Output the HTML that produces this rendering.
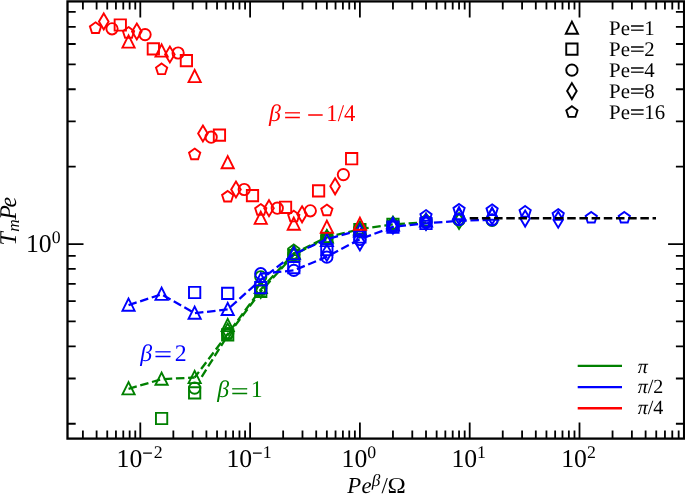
<!DOCTYPE html>
<html><head><meta charset="utf-8"><title>Figure</title>
<style>html,body{margin:0;padding:0;background:#fff}svg{display:block}</style></head>
<body>
<svg width="685" height="494" viewBox="0 0 685 494">
<rect width="685" height="494" fill="#fff"/>
<g>
<polyline points="128.55,388.80 161.60,379.20 194.65,377.50" fill="none" stroke="#008000" stroke-width="2.3" stroke-dasharray="8.51 3.68" stroke-linejoin="round"/>
<polyline points="194.65,377.50 227.70,333.90 260.75,289.50 293.80,253.40 326.85,237.30 359.90,229.20 392.95,224.40 426.00,222.40" fill="none" stroke="#008000" stroke-width="2.3" stroke-dasharray="8.51 3.68" stroke-dashoffset="1.5" stroke-linejoin="round"/>
<polyline points="201.69,376.80 227.70,335.40 260.75,291.60 293.80,254.80 326.85,238.00" fill="none" stroke="#008000" stroke-width="2.3" stroke-dasharray="8.51 3.68" stroke-linejoin="round"/>
<polygon points="128.55,382.20 122.45,394.40 134.65,394.40" fill="none" stroke="#008000" stroke-width="1.9" stroke-linejoin="miter"/>
<polygon points="161.60,372.60 155.50,384.80 167.70,384.80" fill="none" stroke="#008000" stroke-width="1.9" stroke-linejoin="miter"/>
<polygon points="155.95,412.85 167.25,412.85 167.25,424.15 155.95,424.15" fill="none" stroke="#008000" stroke-width="1.9" stroke-linejoin="miter"/>
<polygon points="194.65,370.90 188.55,383.10 200.75,383.10" fill="none" stroke="#008000" stroke-width="1.9" stroke-linejoin="miter"/>
<circle cx="194.65" cy="388.10" r="5.65" fill="none" stroke="#008000" stroke-width="1.9"/>
<polygon points="189.00,387.25 200.30,387.25 200.30,398.55 189.00,398.55" fill="none" stroke="#008000" stroke-width="1.9" stroke-linejoin="miter"/>
<polygon points="227.70,318.90 221.60,331.10 233.80,331.10" fill="none" stroke="#008000" stroke-width="1.9" stroke-linejoin="miter"/>
<polygon points="222.05,329.25 233.35,329.25 233.35,340.55 222.05,340.55" fill="none" stroke="#008000" stroke-width="1.9" stroke-linejoin="miter"/>
<circle cx="227.70" cy="333.50" r="5.65" fill="none" stroke="#008000" stroke-width="1.9"/>
<polygon points="227.70,323.51 232.49,331.50 227.70,339.49 222.91,331.50" fill="none" stroke="#008000" stroke-width="1.9" stroke-linejoin="miter"/>
<polygon points="227.70,328.10 233.31,332.18 231.17,338.77 224.23,338.77 222.09,332.18" fill="none" stroke="#008000" stroke-width="1.9" stroke-linejoin="miter"/>
<polygon points="260.75,280.90 254.65,293.10 266.85,293.10" fill="none" stroke="#008000" stroke-width="1.9" stroke-linejoin="miter"/>
<polygon points="255.10,285.65 266.40,285.65 266.40,296.95 255.10,296.95" fill="none" stroke="#008000" stroke-width="1.9" stroke-linejoin="miter"/>
<circle cx="260.75" cy="276.80" r="5.65" fill="none" stroke="#008000" stroke-width="1.9"/>
<polygon points="260.75,282.01 265.54,290.00 260.75,297.99 255.96,290.00" fill="none" stroke="#008000" stroke-width="1.9" stroke-linejoin="miter"/>
<polygon points="260.75,284.10 266.36,288.18 264.22,294.77 257.28,294.77 255.14,288.18" fill="none" stroke="#008000" stroke-width="1.9" stroke-linejoin="miter"/>
<polygon points="293.80,246.40 287.70,258.60 299.90,258.60" fill="none" stroke="#008000" stroke-width="1.9" stroke-linejoin="miter"/>
<polygon points="288.15,249.85 299.45,249.85 299.45,261.15 288.15,261.15" fill="none" stroke="#008000" stroke-width="1.9" stroke-linejoin="miter"/>
<circle cx="293.80" cy="254.50" r="5.65" fill="none" stroke="#008000" stroke-width="1.9"/>
<polygon points="293.80,246.01 298.59,254.00 293.80,261.99 289.01,254.00" fill="none" stroke="#008000" stroke-width="1.9" stroke-linejoin="miter"/>
<polygon points="293.80,244.50 299.41,248.58 297.27,255.17 290.33,255.17 288.19,248.58" fill="none" stroke="#008000" stroke-width="1.9" stroke-linejoin="miter"/>
<polygon points="326.85,230.40 320.75,242.60 332.95,242.60" fill="none" stroke="#008000" stroke-width="1.9" stroke-linejoin="miter"/>
<polygon points="321.20,232.65 332.50,232.65 332.50,243.95 321.20,243.95" fill="none" stroke="#008000" stroke-width="1.9" stroke-linejoin="miter"/>
<circle cx="326.85" cy="238.00" r="5.65" fill="none" stroke="#008000" stroke-width="1.9"/>
<polygon points="326.85,230.01 331.64,238.00 326.85,245.99 322.06,238.00" fill="none" stroke="#008000" stroke-width="1.9" stroke-linejoin="miter"/>
<polygon points="326.85,231.60 332.46,235.68 330.32,242.27 323.38,242.27 321.24,235.68" fill="none" stroke="#008000" stroke-width="1.9" stroke-linejoin="miter"/>
<polygon points="359.90,222.40 353.80,234.60 366.00,234.60" fill="none" stroke="#008000" stroke-width="1.9" stroke-linejoin="miter"/>
<polygon points="354.25,223.95 365.55,223.95 365.55,235.25 354.25,235.25" fill="none" stroke="#008000" stroke-width="1.9" stroke-linejoin="miter"/>
<circle cx="359.90" cy="229.50" r="5.65" fill="none" stroke="#008000" stroke-width="1.9"/>
<polygon points="359.90,221.51 364.69,229.50 359.90,237.49 355.11,229.50" fill="none" stroke="#008000" stroke-width="1.9" stroke-linejoin="miter"/>
<polygon points="359.90,223.10 365.51,227.18 363.37,233.77 356.43,233.77 354.29,227.18" fill="none" stroke="#008000" stroke-width="1.9" stroke-linejoin="miter"/>
<polygon points="387.30,218.65 398.60,218.65 398.60,229.95 387.30,229.95" fill="none" stroke="#008000" stroke-width="1.9" stroke-linejoin="miter"/>
<circle cx="392.95" cy="224.50" r="5.65" fill="none" stroke="#008000" stroke-width="1.9"/>
<polygon points="392.95,216.51 397.74,224.50 392.95,232.49 388.16,224.50" fill="none" stroke="#008000" stroke-width="1.9" stroke-linejoin="miter"/>
<polygon points="392.95,218.10 398.56,222.18 396.42,228.77 389.48,228.77 387.34,222.18" fill="none" stroke="#008000" stroke-width="1.9" stroke-linejoin="miter"/>
<circle cx="426.00" cy="221.50" r="5.65" fill="none" stroke="#008000" stroke-width="1.9"/>
<polygon points="426.00,213.51 430.79,221.50 426.00,229.49 421.21,221.50" fill="none" stroke="#008000" stroke-width="1.9" stroke-linejoin="miter"/>
<polygon points="426.00,215.10 431.61,219.18 429.47,225.77 422.53,225.77 420.39,219.18" fill="none" stroke="#008000" stroke-width="1.9" stroke-linejoin="miter"/>
<polygon points="459.05,213.01 463.84,221.00 459.05,228.99 454.26,221.00" fill="none" stroke="#008000" stroke-width="1.9" stroke-linejoin="miter"/>
<circle cx="459.05" cy="220.00" r="5.65" fill="none" stroke="#008000" stroke-width="1.9"/>
<circle cx="492.10" cy="220.30" r="5.65" fill="none" stroke="#008000" stroke-width="1.9"/>
<polyline points="128.55,305.10 161.60,294.30 194.65,313.20 227.70,309.40 260.75,279.80 293.80,254.20 326.85,239.20 359.90,230.20" fill="none" stroke="#0000ff" stroke-width="2.3" stroke-dasharray="8.51 3.68" stroke-linejoin="round"/>
<polyline points="260.75,273.70 293.80,270.40 326.85,256.80 359.90,239.20 392.95,226.90 426.00,223.30 459.05,220.80 492.10,219.80" fill="none" stroke="#0000ff" stroke-width="2.3" stroke-dasharray="8.51 3.68" stroke-linejoin="round"/>
<polygon points="128.55,298.50 122.45,310.70 134.65,310.70" fill="none" stroke="#0000ff" stroke-width="1.9" stroke-linejoin="miter"/>
<polygon points="161.60,287.70 155.50,299.90 167.70,299.90" fill="none" stroke="#0000ff" stroke-width="1.9" stroke-linejoin="miter"/>
<polygon points="194.65,306.60 188.55,318.80 200.75,318.80" fill="none" stroke="#0000ff" stroke-width="1.9" stroke-linejoin="miter"/>
<polygon points="189.00,286.85 200.30,286.85 200.30,298.15 189.00,298.15" fill="none" stroke="#0000ff" stroke-width="1.9" stroke-linejoin="miter"/>
<polygon points="227.70,302.80 221.60,315.00 233.80,315.00" fill="none" stroke="#0000ff" stroke-width="1.9" stroke-linejoin="miter"/>
<polygon points="222.05,287.75 233.35,287.75 233.35,299.05 222.05,299.05" fill="none" stroke="#0000ff" stroke-width="1.9" stroke-linejoin="miter"/>
<circle cx="260.75" cy="273.70" r="5.65" fill="none" stroke="#0000ff" stroke-width="1.9"/>
<polygon points="260.75,273.20 254.65,285.40 266.85,285.40" fill="none" stroke="#0000ff" stroke-width="1.9" stroke-linejoin="miter"/>
<polygon points="255.10,281.95 266.40,281.95 266.40,293.25 255.10,293.25" fill="none" stroke="#0000ff" stroke-width="1.9" stroke-linejoin="miter"/>
<polygon points="293.80,247.20 287.70,259.40 299.90,259.40" fill="none" stroke="#0000ff" stroke-width="1.9" stroke-linejoin="miter"/>
<polygon points="288.15,261.95 299.45,261.95 299.45,273.25 288.15,273.25" fill="none" stroke="#0000ff" stroke-width="1.9" stroke-linejoin="miter"/>
<circle cx="293.80" cy="270.40" r="5.65" fill="none" stroke="#0000ff" stroke-width="1.9"/>
<polygon points="326.85,233.90 320.75,246.10 332.95,246.10" fill="none" stroke="#0000ff" stroke-width="1.9" stroke-linejoin="miter"/>
<polygon points="321.20,243.85 332.50,243.85 332.50,255.15 321.20,255.15" fill="none" stroke="#0000ff" stroke-width="1.9" stroke-linejoin="miter"/>
<polygon points="326.85,244.81 331.64,252.80 326.85,260.79 322.06,252.80" fill="none" stroke="#0000ff" stroke-width="1.9" stroke-linejoin="miter"/>
<circle cx="326.85" cy="257.20" r="5.65" fill="none" stroke="#0000ff" stroke-width="1.9"/>
<polygon points="359.90,224.40 353.80,236.60 366.00,236.60" fill="none" stroke="#0000ff" stroke-width="1.9" stroke-linejoin="miter"/>
<polygon points="354.25,231.35 365.55,231.35 365.55,242.65 354.25,242.65" fill="none" stroke="#0000ff" stroke-width="1.9" stroke-linejoin="miter"/>
<circle cx="359.90" cy="239.50" r="5.65" fill="none" stroke="#0000ff" stroke-width="1.9"/>
<polygon points="359.90,234.31 364.69,242.30 359.90,250.29 355.11,242.30" fill="none" stroke="#0000ff" stroke-width="1.9" stroke-linejoin="miter"/>
<polygon points="392.95,218.40 386.85,230.60 399.05,230.60" fill="none" stroke="#0000ff" stroke-width="1.9" stroke-linejoin="miter"/>
<polygon points="387.30,221.45 398.60,221.45 398.60,232.75 387.30,232.75" fill="none" stroke="#0000ff" stroke-width="1.9" stroke-linejoin="miter"/>
<circle cx="392.95" cy="227.00" r="5.65" fill="none" stroke="#0000ff" stroke-width="1.9"/>
<polygon points="392.95,217.71 397.74,225.70 392.95,233.69 388.16,225.70" fill="none" stroke="#0000ff" stroke-width="1.9" stroke-linejoin="miter"/>
<polygon points="426.00,214.40 419.90,226.60 432.10,226.60" fill="none" stroke="#0000ff" stroke-width="1.9" stroke-linejoin="miter"/>
<polygon points="420.35,217.85 431.65,217.85 431.65,229.15 420.35,229.15" fill="none" stroke="#0000ff" stroke-width="1.9" stroke-linejoin="miter"/>
<circle cx="426.00" cy="222.30" r="5.65" fill="none" stroke="#0000ff" stroke-width="1.9"/>
<polygon points="426.00,214.01 430.79,222.00 426.00,229.99 421.21,222.00" fill="none" stroke="#0000ff" stroke-width="1.9" stroke-linejoin="miter"/>
<polygon points="426.00,210.10 431.61,214.18 429.47,220.77 422.53,220.77 420.39,214.18" fill="none" stroke="#0000ff" stroke-width="1.9" stroke-linejoin="miter"/>
<polygon points="459.05,207.00 452.95,219.20 465.15,219.20" fill="none" stroke="#0000ff" stroke-width="1.9" stroke-linejoin="miter"/>
<circle cx="459.05" cy="219.60" r="5.65" fill="none" stroke="#0000ff" stroke-width="1.9"/>
<polygon points="459.05,208.31 463.84,216.30 459.05,224.29 454.26,216.30" fill="none" stroke="#0000ff" stroke-width="1.9" stroke-linejoin="miter"/>
<polygon points="459.05,203.90 464.66,207.98 462.52,214.57 455.58,214.57 453.44,207.98" fill="none" stroke="#0000ff" stroke-width="1.9" stroke-linejoin="miter"/>
<polygon points="492.10,207.50 486.00,219.70 498.20,219.70" fill="none" stroke="#0000ff" stroke-width="1.9" stroke-linejoin="miter"/>
<circle cx="492.10" cy="219.80" r="5.65" fill="none" stroke="#0000ff" stroke-width="1.9"/>
<polygon points="492.10,208.31 496.89,216.30 492.10,224.29 487.31,216.30" fill="none" stroke="#0000ff" stroke-width="1.9" stroke-linejoin="miter"/>
<polygon points="492.10,204.30 497.71,208.38 495.57,214.97 488.63,214.97 486.49,208.38" fill="none" stroke="#0000ff" stroke-width="1.9" stroke-linejoin="miter"/>
<polygon points="525.15,210.61 529.94,218.60 525.15,226.59 520.36,218.60" fill="none" stroke="#0000ff" stroke-width="1.9" stroke-linejoin="miter"/>
<polygon points="525.15,206.00 530.76,210.08 528.62,216.67 521.68,216.67 519.54,210.08" fill="none" stroke="#0000ff" stroke-width="1.9" stroke-linejoin="miter"/>
<polygon points="558.20,211.71 562.99,219.70 558.20,227.69 553.41,219.70" fill="none" stroke="#0000ff" stroke-width="1.9" stroke-linejoin="miter"/>
<polygon points="558.20,209.10 563.81,213.18 561.67,219.77 554.73,219.77 552.59,213.18" fill="none" stroke="#0000ff" stroke-width="1.9" stroke-linejoin="miter"/>
<polygon points="591.25,211.90 596.86,215.98 594.72,222.57 587.78,222.57 585.64,215.98" fill="none" stroke="#0000ff" stroke-width="1.9" stroke-linejoin="miter"/>
<polygon points="624.30,211.90 629.91,215.98 627.77,222.57 620.83,222.57 618.69,215.98" fill="none" stroke="#0000ff" stroke-width="1.9" stroke-linejoin="miter"/>
<polygon points="128.55,35.40 122.45,47.60 134.65,47.60" fill="none" stroke="#ff0000" stroke-width="1.9" stroke-linejoin="miter"/>
<polygon points="114.64,19.35 125.94,19.35 125.94,30.65 114.64,30.65" fill="none" stroke="#ff0000" stroke-width="1.9" stroke-linejoin="miter"/>
<circle cx="112.03" cy="28.80" r="5.65" fill="none" stroke="#ff0000" stroke-width="1.9"/>
<polygon points="103.76,13.41 108.56,21.40 103.76,29.39 98.97,21.40" fill="none" stroke="#ff0000" stroke-width="1.9" stroke-linejoin="miter"/>
<polygon points="95.50,22.30 101.11,26.38 98.97,32.97 92.03,32.97 89.89,26.38" fill="none" stroke="#ff0000" stroke-width="1.9" stroke-linejoin="miter"/>
<polygon points="161.60,44.40 155.50,56.60 167.70,56.60" fill="none" stroke="#ff0000" stroke-width="1.9" stroke-linejoin="miter"/>
<polygon points="147.69,43.25 158.99,43.25 158.99,54.55 147.69,54.55" fill="none" stroke="#ff0000" stroke-width="1.9" stroke-linejoin="miter"/>
<circle cx="145.07" cy="34.60" r="5.65" fill="none" stroke="#ff0000" stroke-width="1.9"/>
<polygon points="136.81,23.51 141.61,31.50 136.81,39.49 132.02,31.50" fill="none" stroke="#ff0000" stroke-width="1.9" stroke-linejoin="miter"/>
<polygon points="128.55,27.10 134.16,31.18 132.02,37.77 125.08,37.77 122.94,31.18" fill="none" stroke="#ff0000" stroke-width="1.9" stroke-linejoin="miter"/>
<polygon points="194.65,69.90 188.55,82.10 200.75,82.10" fill="none" stroke="#ff0000" stroke-width="1.9" stroke-linejoin="miter"/>
<polygon points="180.74,54.95 192.04,54.95 192.04,66.25 180.74,66.25" fill="none" stroke="#ff0000" stroke-width="1.9" stroke-linejoin="miter"/>
<circle cx="178.12" cy="53.00" r="5.65" fill="none" stroke="#ff0000" stroke-width="1.9"/>
<polygon points="169.86,46.51 174.66,54.50 169.86,62.49 165.07,54.50" fill="none" stroke="#ff0000" stroke-width="1.9" stroke-linejoin="miter"/>
<polygon points="161.60,63.50 167.21,67.58 165.07,74.17 158.13,74.17 155.99,67.58" fill="none" stroke="#ff0000" stroke-width="1.9" stroke-linejoin="miter"/>
<polygon points="227.70,156.10 221.60,168.30 233.80,168.30" fill="none" stroke="#ff0000" stroke-width="1.9" stroke-linejoin="miter"/>
<polygon points="213.79,129.45 225.09,129.45 225.09,140.75 213.79,140.75" fill="none" stroke="#ff0000" stroke-width="1.9" stroke-linejoin="miter"/>
<circle cx="211.17" cy="137.20" r="5.65" fill="none" stroke="#ff0000" stroke-width="1.9"/>
<polygon points="202.91,125.51 207.71,133.50 202.91,141.49 198.12,133.50" fill="none" stroke="#ff0000" stroke-width="1.9" stroke-linejoin="miter"/>
<polygon points="194.65,148.60 200.26,152.68 198.12,159.27 191.18,159.27 189.04,152.68" fill="none" stroke="#ff0000" stroke-width="1.9" stroke-linejoin="miter"/>
<polygon points="260.75,211.70 254.65,223.90 266.85,223.90" fill="none" stroke="#ff0000" stroke-width="1.9" stroke-linejoin="miter"/>
<polygon points="246.84,189.95 258.14,189.95 258.14,201.25 246.84,201.25" fill="none" stroke="#ff0000" stroke-width="1.9" stroke-linejoin="miter"/>
<circle cx="244.22" cy="189.50" r="5.65" fill="none" stroke="#ff0000" stroke-width="1.9"/>
<polygon points="235.96,181.51 240.76,189.50 235.96,197.49 231.17,189.50" fill="none" stroke="#ff0000" stroke-width="1.9" stroke-linejoin="miter"/>
<polygon points="227.70,190.90 233.31,194.98 231.17,201.57 224.23,201.57 222.09,194.98" fill="none" stroke="#ff0000" stroke-width="1.9" stroke-linejoin="miter"/>
<polygon points="293.80,217.50 287.70,229.70 299.90,229.70" fill="none" stroke="#ff0000" stroke-width="1.9" stroke-linejoin="miter"/>
<polygon points="279.89,201.65 291.19,201.65 291.19,212.95 279.89,212.95" fill="none" stroke="#ff0000" stroke-width="1.9" stroke-linejoin="miter"/>
<circle cx="277.27" cy="208.20" r="5.65" fill="none" stroke="#ff0000" stroke-width="1.9"/>
<polygon points="269.01,200.21 273.81,208.20 269.01,216.19 264.22,208.20" fill="none" stroke="#ff0000" stroke-width="1.9" stroke-linejoin="miter"/>
<polygon points="260.75,204.10 266.36,208.18 264.22,214.77 257.28,214.77 255.14,208.18" fill="none" stroke="#ff0000" stroke-width="1.9" stroke-linejoin="miter"/>
<polygon points="326.85,220.70 320.75,232.90 332.95,232.90" fill="none" stroke="#ff0000" stroke-width="1.9" stroke-linejoin="miter"/>
<polygon points="312.94,185.25 324.24,185.25 324.24,196.55 312.94,196.55" fill="none" stroke="#ff0000" stroke-width="1.9" stroke-linejoin="miter"/>
<circle cx="310.32" cy="210.80" r="5.65" fill="none" stroke="#ff0000" stroke-width="1.9"/>
<polygon points="302.06,206.31 306.86,214.30 302.06,222.29 297.27,214.30" fill="none" stroke="#ff0000" stroke-width="1.9" stroke-linejoin="miter"/>
<polygon points="293.80,210.70 299.41,214.78 297.27,221.37 290.33,221.37 288.19,214.78" fill="none" stroke="#ff0000" stroke-width="1.9" stroke-linejoin="miter"/>
<polygon points="359.90,217.60 353.80,229.80 366.00,229.80" fill="none" stroke="#ff0000" stroke-width="1.9" stroke-linejoin="miter"/>
<polygon points="345.99,153.05 357.29,153.05 357.29,164.35 345.99,164.35" fill="none" stroke="#ff0000" stroke-width="1.9" stroke-linejoin="miter"/>
<circle cx="343.38" cy="174.60" r="5.65" fill="none" stroke="#ff0000" stroke-width="1.9"/>
<polygon points="335.11,178.31 339.91,186.30 335.11,194.29 330.32,186.30" fill="none" stroke="#ff0000" stroke-width="1.9" stroke-linejoin="miter"/>
<polygon points="326.85,204.60 332.46,208.68 330.32,215.27 323.38,215.27 321.24,208.68" fill="none" stroke="#ff0000" stroke-width="1.9" stroke-linejoin="miter"/>
<polyline points="469.70,218.30 656.00,218.30" fill="none" stroke="#000" stroke-width="2.55" stroke-dasharray="8.51 3.68" stroke-linejoin="round"/>
</g>
<path d="M82.89 438.6v-8.2M82.89 1.4v8.2M96.61 438.6v-8.2M96.61 1.4v8.2M107.25 438.6v-8.2M107.25 1.4v8.2M115.94 438.6v-8.2M115.94 1.4v8.2M123.29 438.6v-8.2M123.29 1.4v8.2M129.66 438.6v-8.2M129.66 1.4v8.2M135.28 438.6v-8.2M135.28 1.4v8.2M140.30 438.6v-16M140.30 1.4v16M173.35 438.6v-8.2M173.35 1.4v8.2M192.69 438.6v-8.2M192.69 1.4v8.2M206.41 438.6v-8.2M206.41 1.4v8.2M217.05 438.6v-8.2M217.05 1.4v8.2M225.74 438.6v-8.2M225.74 1.4v8.2M233.09 438.6v-8.2M233.09 1.4v8.2M239.46 438.6v-8.2M239.46 1.4v8.2M245.08 438.6v-8.2M245.08 1.4v8.2M250.10 438.6v-16M250.10 1.4v16M283.15 438.6v-8.2M283.15 1.4v8.2M302.49 438.6v-8.2M302.49 1.4v8.2M316.21 438.6v-8.2M316.21 1.4v8.2M326.85 438.6v-8.2M326.85 1.4v8.2M335.54 438.6v-8.2M335.54 1.4v8.2M342.89 438.6v-8.2M342.89 1.4v8.2M349.26 438.6v-8.2M349.26 1.4v8.2M354.88 438.6v-8.2M354.88 1.4v8.2M359.90 438.6v-16M359.90 1.4v16M392.95 438.6v-8.2M392.95 1.4v8.2M412.29 438.6v-8.2M412.29 1.4v8.2M426.01 438.6v-8.2M426.01 1.4v8.2M436.65 438.6v-8.2M436.65 1.4v8.2M445.34 438.6v-8.2M445.34 1.4v8.2M452.69 438.6v-8.2M452.69 1.4v8.2M459.06 438.6v-8.2M459.06 1.4v8.2M464.68 438.6v-8.2M464.68 1.4v8.2M469.70 438.6v-16M469.70 1.4v16M502.75 438.6v-8.2M502.75 1.4v8.2M522.09 438.6v-8.2M522.09 1.4v8.2M535.81 438.6v-8.2M535.81 1.4v8.2M546.45 438.6v-8.2M546.45 1.4v8.2M555.14 438.6v-8.2M555.14 1.4v8.2M562.49 438.6v-8.2M562.49 1.4v8.2M568.86 438.6v-8.2M568.86 1.4v8.2M574.48 438.6v-8.2M574.48 1.4v8.2M579.50 438.6v-16M579.50 1.4v16M612.55 438.6v-8.2M612.55 1.4v8.2M631.89 438.6v-8.2M631.89 1.4v8.2M645.61 438.6v-8.2M645.61 1.4v8.2M656.25 438.6v-8.2M656.25 1.4v8.2M664.94 438.6v-8.2M664.94 1.4v8.2M672.29 438.6v-8.2M672.29 1.4v8.2M678.66 438.6v-8.2M678.66 1.4v8.2M67.5 423.76h8.2M684.1 423.76h-8.2M67.5 378.48h8.2M684.1 378.48h-8.2M67.5 346.36h8.2M684.1 346.36h-8.2M67.5 321.44h8.2M684.1 321.44h-8.2M67.5 301.09h8.2M684.1 301.09h-8.2M67.5 283.88h8.2M684.1 283.88h-8.2M67.5 268.97h8.2M684.1 268.97h-8.2M67.5 255.81h8.2M684.1 255.81h-8.2M67.5 244.05h16M684.1 244.05h-16M67.5 166.66h8.2M684.1 166.66h-8.2M67.5 121.38h8.2M684.1 121.38h-8.2M67.5 89.26h8.2M684.1 89.26h-8.2M67.5 64.34h8.2M684.1 64.34h-8.2M67.5 43.99h8.2M684.1 43.99h-8.2M67.5 26.78h8.2M684.1 26.78h-8.2M67.5 11.87h8.2M684.1 11.87h-8.2" stroke="#000" stroke-width="1.8" fill="none"/>
<rect x="67.5" y="1.4" width="616.6" height="437.20000000000005" fill="none" stroke="#000" stroke-width="2.3"/>
<g font-family="Liberation Serif, serif" text-rendering="geometricPrecision">
<text x="116.60" y="467.1" font-size="25.7">10<tspan font-size="17.8" y="458.70" x="142.40" stroke="#000" stroke-width="0.4">−</tspan><tspan font-size="17.8" y="457.90" x="153.80">2</tspan></text>
<text x="226.40" y="467.1" font-size="25.7">10<tspan font-size="17.8" y="458.70" x="252.20" stroke="#000" stroke-width="0.4">−</tspan><tspan font-size="17.8" y="457.90" x="262.80">1</tspan></text>
<text x="341.60" y="467.1" font-size="25.7">10<tspan font-size="17.8" dy="-9.2">0</tspan></text>
<text x="451.40" y="467.1" font-size="25.7">10<tspan font-size="17.8" dy="-9.2">1</tspan></text>
<text x="561.20" y="467.1" font-size="25.7">10<tspan font-size="17.8" dy="-9.2">2</tspan></text>
<text x="26.0" y="251.5" font-size="25.7">10<tspan font-size="17.8" dy="-8.6">0</tspan></text>
<text x="347.2" y="492.5" font-size="22.8"><tspan font-style="italic">P</tspan><tspan font-style="italic" x="361.6">e</tspan><tspan font-style="italic" font-size="17.2" x="371.7" dy="-6.4">β</tspan><tspan x="381.5" dy="6.4">/</tspan><tspan x="387.4" textLength="18.30" lengthAdjust="spacingAndGlyphs">Ω</tspan></text>
<text transform="translate(16.2,245.6) rotate(-90)" font-size="24" font-style="italic"><tspan x="0" y="0">T</tspan><tspan font-size="17.2" x="13.9" y="2.8">m</tspan><tspan x="25.9" y="0">P</tspan><tspan x="38.2" y="0">e</tspan></text>
<text x="269.1" y="121.2" font-size="23.8" fill="#ff0000"><tspan font-style="italic">β</tspan><tspan x="283.65" y="122.70" textLength="17.45" lengthAdjust="spacingAndGlyphs" stroke="#ff0000" stroke-width="0.35">=</tspan><tspan x="306.90" y="122.70" textLength="16.78" lengthAdjust="spacingAndGlyphs" stroke="#ff0000" stroke-width="0.35">−</tspan><tspan x="326.3" y="121.2" textLength="29.0" lengthAdjust="spacingAndGlyphs">1/4</tspan></text>
<text x="140.2" y="360.5" font-size="23.8" fill="#0000ff"><tspan font-style="italic">β</tspan><tspan x="154.35" y="362.00" textLength="17.45" lengthAdjust="spacingAndGlyphs" stroke="#0000ff" stroke-width="0.35">=</tspan><tspan x="174.65" y="360.5">2</tspan></text>
<text x="217.3" y="397.3" font-size="23.8" fill="#008000"><tspan font-style="italic">β</tspan><tspan x="231.05" y="398.80" textLength="17.45" lengthAdjust="spacingAndGlyphs" stroke="#008000" stroke-width="0.35">=</tspan><tspan x="250.8" y="397.3">1</tspan></text>
<polygon points="571.90,21.60 565.80,33.80 578.00,33.80" fill="none" stroke="#000" stroke-width="1.9" stroke-linejoin="miter"/>
<text x="609.1" y="34.60" font-size="20.8">Pe<tspan x="630.10" y="35.30" textLength="14.55" lengthAdjust="spacingAndGlyphs" stroke="#000" stroke-width="0.35">=</tspan><tspan x="644.35" y="34.60">1</tspan></text>
<polygon points="566.25,43.52 577.55,43.52 577.55,54.82 566.25,54.82" fill="none" stroke="#000" stroke-width="1.9" stroke-linejoin="miter"/>
<text x="609.1" y="55.60" font-size="20.8">Pe<tspan x="630.10" y="56.30" textLength="14.55" lengthAdjust="spacingAndGlyphs" stroke="#000" stroke-width="0.35">=</tspan><tspan x="644.35" y="55.60">2</tspan></text>
<circle cx="571.90" cy="70.14" r="5.65" fill="none" stroke="#000" stroke-width="1.9"/>
<text x="609.1" y="76.60" font-size="20.8">Pe<tspan x="630.10" y="77.30" textLength="14.55" lengthAdjust="spacingAndGlyphs" stroke="#000" stroke-width="0.35">=</tspan><tspan x="644.35" y="76.60">4</tspan></text>
<polygon points="571.90,83.12 576.69,91.11 571.90,99.10 567.11,91.11" fill="none" stroke="#000" stroke-width="1.9" stroke-linejoin="miter"/>
<text x="609.1" y="97.60" font-size="20.8">Pe<tspan x="630.10" y="98.30" textLength="14.55" lengthAdjust="spacingAndGlyphs" stroke="#000" stroke-width="0.35">=</tspan><tspan x="644.35" y="97.60">8</tspan></text>
<polygon points="571.90,106.18 577.51,110.26 575.37,116.85 568.43,116.85 566.29,110.26" fill="none" stroke="#000" stroke-width="1.9" stroke-linejoin="miter"/>
<text x="609.1" y="118.60" font-size="20.8">Pe<tspan x="630.10" y="119.30" textLength="14.55" lengthAdjust="spacingAndGlyphs" stroke="#000" stroke-width="0.35">=</tspan><tspan x="644.35" y="118.60">16</tspan></text>
<line x1="577.7" x2="622" y1="365.85" y2="365.85" stroke="#008000" stroke-width="2.3"/>
<text x="637.7" y="372.70" font-size="20"><tspan font-style="italic">π</tspan></text>
<line x1="577.7" x2="622" y1="387.05" y2="387.05" stroke="#0000ff" stroke-width="2.3"/>
<text x="637.7" y="393.30" font-size="20"><tspan font-style="italic">π</tspan>/2</text>
<line x1="577.7" x2="622" y1="408.25" y2="408.25" stroke="#ff0000" stroke-width="2.3"/>
<text x="637.7" y="413.90" font-size="20"><tspan font-style="italic">π</tspan>/4</text>
</g>
</svg>
</body></html>
